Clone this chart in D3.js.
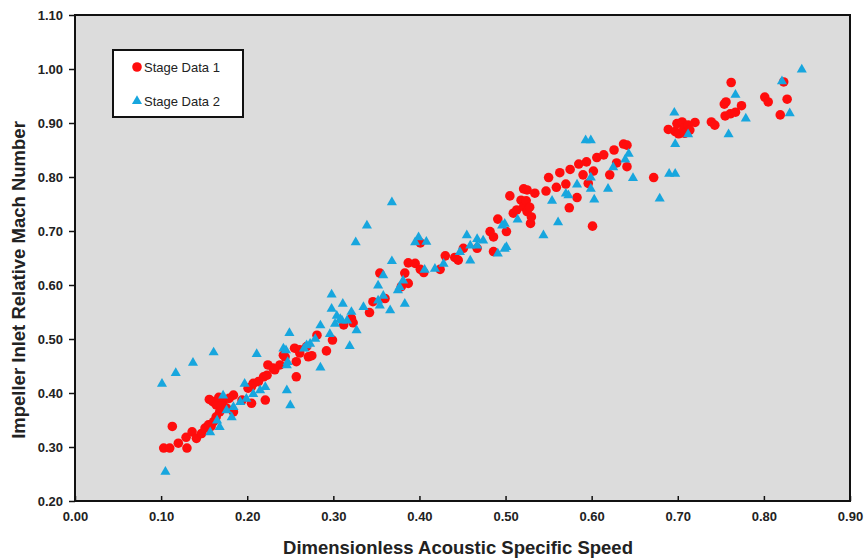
<!DOCTYPE html>
<html>
<head>
<meta charset="utf-8">
<script src="https://cdn.jsdelivr.net/npm/d3@7"></script>
<style>
  body { margin: 0; background: #fff; }
  svg { display: block; font-family: "Liberation Sans", Arial, sans-serif; }
  .tick text { font-family: "Liberation Sans Narrow", "Liberation Sans", Arial, sans-serif; font-weight: bold; font-size: 13px; fill: #222; }
</style>
</head>
<body>
<svg width="867" height="558"></svg>
<script>
// Stage Data 1 (red circles): [speed, mach]
var stage1 = [
  [0.103,0.298],[0.110,0.298],[0.113,0.338],[0.120,0.307],[0.130,0.298],[0.129,0.318],
  [0.136,0.328],[0.141,0.316],[0.147,0.325],[0.151,0.335],[0.155,0.341],[0.156,0.388],
  [0.160,0.384],[0.164,0.378],[0.168,0.365],[0.172,0.384],[0.176,0.372],[0.184,0.396],
  [0.194,0.387],[0.184,0.365],[0.164,0.356],[0.161,0.347],[0.158,0.338],[0.205,0.381],
  [0.201,0.409],[0.207,0.418],[0.213,0.421],[0.219,0.430],[0.221,0.387],[0.224,0.452],
  [0.230,0.446],[0.238,0.452],[0.242,0.470],[0.257,0.430],[0.255,0.483],[0.261,0.480],
  [0.269,0.486],[0.271,0.467],[0.261,0.474],[0.244,0.467],[0.257,0.458],[0.275,0.469],
  [0.292,0.478],[0.299,0.498],[0.281,0.507],[0.232,0.443],[0.223,0.433],[0.205,0.412],
  [0.321,0.538],[0.323,0.530],[0.312,0.526],[0.342,0.549],[0.346,0.569],[0.360,0.575],
  [0.354,0.622],[0.379,0.597],[0.387,0.603],[0.383,0.622],[0.387,0.641],[0.395,0.640],
  [0.401,0.629],[0.405,0.623],[0.401,0.678],[0.424,0.629],[0.430,0.654],[0.441,0.651],
  [0.445,0.646],[0.451,0.668],[0.467,0.668],[0.486,0.662],[0.482,0.699],[0.486,0.689],
  [0.491,0.722],[0.501,0.699],[0.505,0.765],[0.509,0.733],[0.513,0.739],[0.518,0.757],
  [0.521,0.745],[0.521,0.778],[0.524,0.756],[0.525,0.776],[0.525,0.736],[0.528,0.744],
  [0.529,0.714],[0.530,0.726],[0.534,0.770],[0.547,0.774],[0.550,0.799],[0.559,0.781],
  [0.563,0.808],[0.570,0.787],[0.574,0.743],[0.575,0.814],[0.583,0.762],[0.585,0.824],
  [0.590,0.804],[0.594,0.828],[0.596,0.788],[0.601,0.709],[0.602,0.811],[0.606,0.836],
  [0.614,0.841],[0.621,0.804],[0.626,0.850],[0.629,0.826],[0.637,0.861],[0.641,0.859],
  [0.641,0.819],[0.672,0.799],[0.689,0.888],[0.697,0.884],[0.699,0.899],[0.701,0.880],
  [0.705,0.902],[0.707,0.890],[0.708,0.881],[0.712,0.896],[0.714,0.887],[0.720,0.901],
  [0.739,0.902],[0.743,0.896],[0.754,0.935],[0.756,0.939],[0.755,0.913],[0.761,0.917],
  [0.762,0.975],[0.767,0.920],[0.774,0.932],[0.801,0.948],[0.805,0.939],[0.819,0.915],
  [0.823,0.976],[0.827,0.944],[0.170,0.376],[0.179,0.390],[0.167,0.392]
];

// Stage Data 2 (blue triangles)
var stage2 = [
  [0.101,0.418],[0.117,0.438],[0.137,0.457],[0.161,0.476],[0.105,0.255],[0.211,0.473],
  [0.197,0.418],[0.215,0.406],[0.221,0.412],[0.246,0.406],[0.250,0.378],[0.246,0.452],
  [0.242,0.483],[0.269,0.489],[0.172,0.396],[0.176,0.369],[0.184,0.375],[0.182,0.356],
  [0.165,0.350],[0.168,0.338],[0.157,0.328],[0.192,0.384],[0.199,0.390],[0.207,0.399],
  [0.249,0.512],[0.245,0.480],[0.298,0.583],[0.311,0.566],[0.298,0.557],[0.304,0.544],
  [0.321,0.551],[0.285,0.526],[0.296,0.510],[0.327,0.517],[0.319,0.488],[0.279,0.501],
  [0.273,0.492],[0.266,0.483],[0.285,0.448],[0.247,0.458],[0.310,0.535],[0.368,0.754],
  [0.339,0.711],[0.326,0.680],[0.399,0.689],[0.395,0.680],[0.408,0.681],[0.368,0.645],
  [0.455,0.693],[0.467,0.686],[0.459,0.646],[0.447,0.662],[0.428,0.640],[0.418,0.631],
  [0.406,0.629],[0.358,0.619],[0.352,0.600],[0.381,0.609],[0.377,0.597],[0.375,0.591],
  [0.358,0.581],[0.352,0.572],[0.354,0.563],[0.335,0.560],[0.383,0.566],[0.366,0.554],
  [0.308,0.538],[0.316,0.535],[0.302,0.529],[0.593,0.869],[0.599,0.869],[0.554,0.757],
  [0.570,0.770],[0.573,0.767],[0.583,0.787],[0.599,0.779],[0.599,0.800],[0.603,0.759],
  [0.619,0.779],[0.625,0.819],[0.561,0.717],[0.544,0.693],[0.514,0.722],[0.499,0.714],
  [0.496,0.711],[0.474,0.683],[0.467,0.674],[0.459,0.674],[0.501,0.671],[0.491,0.659],
  [0.499,0.668],[0.696,0.920],[0.697,0.862],[0.712,0.880],[0.759,0.880],[0.767,0.953],
  [0.779,0.909],[0.690,0.807],[0.697,0.807],[0.679,0.761],[0.648,0.799],[0.643,0.844],
  [0.639,0.833],[0.844,1.000],[0.821,0.978],[0.830,0.919]
];

var xTicks = [0, 0.1, 0.2, 0.3, 0.4, 0.5, 0.6, 0.7, 0.8, 0.9];
var yTicks = [0.2, 0.3, 0.4, 0.5, 0.6, 0.7, 0.8, 0.9, 1.0, 1.1];
var seriesNames = ["Stage Data 1", "Stage Data 2"];
var seriesColors = ["#ff0d0d", "#17a6de"];

var svg = d3.select("svg");

var x = d3.scaleLinear().domain([0, 0.9]).range([75, 850]);
var y = d3.scaleLinear().domain([0.2, 1.1]).range([501, 15]);

// plot area
svg.append("rect")
    .attr("x", 75).attr("y", 15)
    .attr("width", 775).attr("height", 486)
    .attr("fill", "#dcdcdc");

var circle = d3.symbol().type(d3.symbolCircle).size(72);
var tri = d3.symbol().type(d3.symbolTriangle).size(44);

svg.append("g").selectAll("path")
  .data(stage1)
  .enter().append("path")
    .attr("d", circle)
    .attr("transform", function(d) { return "translate(" + x(d[0]) + "," + y(d[1]) + ")"; })
    .attr("fill", seriesColors[0]);

svg.append("g").selectAll("path")
  .data(stage2)
  .enter().append("path")
    .attr("d", tri)
    .attr("transform", function(d) { return "translate(" + x(d[0]) + "," + (y(d[1]) + 0.5) + ")"; })
    .attr("fill", seriesColors[1]);

// frame
svg.append("rect")
    .attr("x", 75).attr("y", 15)
    .attr("width", 775).attr("height", 486)
    .attr("fill", "none")
    .attr("stroke", "#111")
    .attr("stroke-width", 2);

var xAxis = svg.append("g")
    .attr("transform", "translate(0,501)")
    .call(d3.axisBottom(x).tickValues(xTicks).tickSize(-5).tickPadding(11)
      .tickFormat(d3.format(".2f")));
xAxis.select(".domain").remove();
xAxis.selectAll("line").attr("stroke", "#111").attr("stroke-width", 1.5);

var yAxis = svg.append("g")
    .attr("transform", "translate(75,0)")
    .call(d3.axisLeft(y).tickValues(yTicks).tickSize(6).tickPadding(6)
      .tickFormat(d3.format(".2f")));
yAxis.select(".domain").remove();
yAxis.selectAll("line").attr("stroke", "#111").attr("stroke-width", 1.5);
yAxis.selectAll("text").attr("dy", "0.35em");

// axis titles
svg.append("text")
    .attr("x", 458).attr("y", 554)
    .attr("text-anchor", "middle")
    .attr("font-weight", "bold")
    .attr("font-size", 18.5)
    .attr("fill", "#222")
    .text("Dimensionless Acoustic Specific Speed");

svg.append("text")
    .attr("transform", "translate(25,280) rotate(-90)")
    .attr("text-anchor", "middle")
    .attr("font-weight", "bold")
    .attr("font-size", 18.5)
    .attr("fill", "#222")
    .text("Impeller Inlet Relative Mach Number");

// legend
var legend = svg.append("g");
legend.append("rect")
    .attr("x", 113).attr("y", 50)
    .attr("width", 130).attr("height", 67)
    .attr("fill", "#fff")
    .attr("stroke", "#111")
    .attr("stroke-width", 2);

var items = legend.selectAll(".item")
  .data(seriesNames)
  .enter().append("g")
    .attr("class", "item")
    .attr("transform", function(d, i) { return "translate(137," + (67 + i * 34) + ")"; });

items.append("path")
    .attr("d", function(d, i) { return i === 0 ? circle() : tri(); })
    .attr("fill", function(d, i) { return seriesColors[i]; });

items.append("text")
    .attr("x", 7).attr("dy", "0.35em")
    .attr("font-size", 13)
    .attr("fill", "#222")
    .text(function(d) { return d; });
</script>
</body>
</html>
